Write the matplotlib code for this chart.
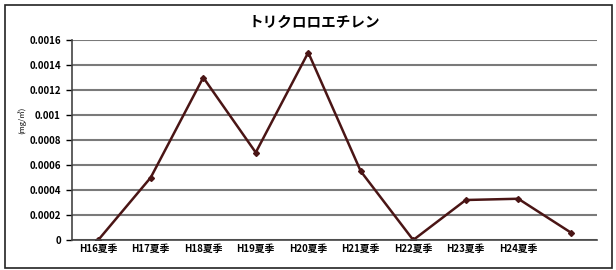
import matplotlib
matplotlib.use('Agg')
import matplotlib.pyplot as plt
from matplotlib.patches import Rectangle

plt.rcParams['font.family'] = ['Noto Sans CJK JP', 'DejaVu Sans']

title = 'トリクロロエチレン'
ylabel = '(mg/㎥)'
categories = ['H16夏季', 'H17夏季', 'H18夏季', 'H19夏季', 'H20夏季',
              'H21夏季', 'H22夏季', 'H23夏季', 'H24夏季', '']
values = [0.0, 0.0005, 0.0013, 0.0007, 0.0015,
          0.00055, 0.0, 0.00032, 0.00033, 0.00006]
yticks = [0, 0.0002, 0.0004, 0.0006, 0.0008, 0.001, 0.0012, 0.0014, 0.0016]
ytick_labels = ['0', '0.0002', '0.0004', '0.0006', '0.0008', '0.001',
                '0.0012', '0.0014', '0.0016']

fig = plt.figure(figsize=(6.16, 2.70), dpi=100)
fig.patches.append(Rectangle((5/616, 2/270), 607/616, 263/270, transform=fig.transFigure,
                             fill=False, edgecolor='#222222', linewidth=1.2))

ax = fig.add_axes([72/616, 30/270, 525/616, 200/270])
x = list(range(len(categories)))
ax.plot(x, values, color='#4a1515', linewidth=1.8, marker='D', markersize=3)
ax.set_xlim(-0.5, len(categories) - 0.5)
ax.set_ylim(0, 0.0016)
ax.set_yticks(yticks)
ax.set_yticklabels(ytick_labels, fontsize=7, fontweight='bold')
ax.set_xticks(x)
ax.set_xticklabels(categories, fontsize=7, fontweight='bold')
ax.tick_params(axis='x', length=0, pad=3)
ax.tick_params(axis='y', length=4, width=1, pad=4)
ax.grid(axis='y', color='#7a7a7a', linewidth=1.5)
ax.set_axisbelow(True)
for s in ['top', 'right']:
    ax.spines[s].set_visible(False)
ax.spines['left'].set_color('#444444')
ax.spines['bottom'].set_color('#444444')
ax.spines['left'].set_linewidth(1.2)
ax.spines['bottom'].set_linewidth(1.2)

fig.text(314/616, 1 - 22/270, title, ha='center', va='center', fontsize=10.5, fontweight='bold')
fig.text(22/616, 1 - 120/270, ylabel, ha='center', va='center', rotation=90, fontsize=5.5)

fig.savefig('out.png', dpi=100)
